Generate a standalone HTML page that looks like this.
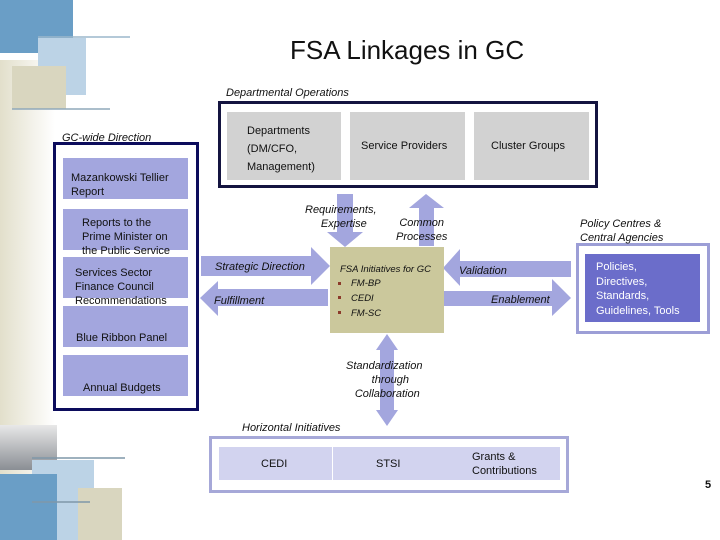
<!DOCTYPE html>
<html><head><meta charset="utf-8"><style>
body{margin:0}
#p{position:relative;width:720px;height:540px;overflow:hidden;background:#fff;font-family:"Liberation Sans",sans-serif;color:#111}
.t{position:absolute;font-size:11px;line-height:14px;white-space:nowrap}
.i{font-style:italic}
</style></head><body><div id="p">
<svg width="720" height="540" style="position:absolute;left:0;top:0">
<defs>
<linearGradient id="lg" x1="0" x2="0" y1="0" y2="1"><stop offset="0" stop-color="#fff"/><stop offset="0.5" stop-color="#e8e5d2"/><stop offset="1" stop-color="#fff"/></linearGradient>
<linearGradient id="lh" x1="0" x2="1"><stop offset="0" stop-color="#e2dfcb"/><stop offset="1" stop-color="#fff"/></linearGradient>
<linearGradient id="gr" x1="0" x2="0" y1="0" y2="1"><stop offset="0" stop-color="#e8e8e8"/><stop offset="1" stop-color="#8a8e94"/></linearGradient>
</defs>
<rect x="0" y="60" width="55" height="420" fill="url(#lh)"/>
<rect x="0" y="0" width="73" height="53" fill="#6a9ec6"/>
<rect x="38" y="38" width="48" height="57" fill="#bcd3e6"/>
<rect x="12" y="66" width="54" height="43" fill="#d9d6bf"/>
<line x1="38" y1="37" x2="130" y2="37" stroke="#9bb7cc" stroke-width="1.5"/>
<line x1="12" y1="109" x2="110" y2="109" stroke="#8fa8ba" stroke-width="1.5"/>
<rect x="0" y="425" width="57" height="45" fill="url(#gr)"/>
<rect x="32" y="460" width="62" height="80" fill="#bcd3e6"/>
<rect x="0" y="474" width="57" height="66" fill="#6a9ec6"/>
<rect x="78" y="488" width="44" height="52" fill="#d9d6bf"/>
<line x1="32" y1="458" x2="125" y2="458" stroke="#7f97a8" stroke-width="1.5"/>
<line x1="32" y1="502" x2="90" y2="502" stroke="#7f97a8" stroke-width="1.5"/>
<!-- Dept ops box -->
<rect x="219.5" y="102.5" width="377" height="84" fill="#fff" stroke="#141440" stroke-width="3"/>
<rect x="227" y="112" width="114" height="68" fill="#d2d2d2"/>
<rect x="350" y="112" width="115" height="68" fill="#d2d2d2"/>
<rect x="474" y="112" width="115" height="68" fill="#d2d2d2"/>
<!-- GC-wide box -->
<rect x="54.5" y="143.5" width="143" height="266" fill="#fff" stroke="#0c0c5c" stroke-width="3"/>
<rect x="63" y="158" width="125" height="41" fill="#a3a6de"/>
<rect x="63" y="209" width="125" height="41" fill="#a3a6de"/>
<rect x="63" y="257" width="125" height="41" fill="#a3a6de"/>
<rect x="63" y="306" width="125" height="41" fill="#a3a6de"/>
<rect x="63" y="355" width="125" height="41" fill="#a3a6de"/>
<!-- arrows -->
<g fill="#a3a6de">
<polygon points="337,194 353,194 353,232 363,232 345,247 327,232 337,232"/>
<polygon points="419,246 434,246 434,208 444,208 426,194 409,208 419,208"/>
<polygon points="201,256 311,256 311,247 330,266 311,285 311,276 201,276"/>
<polygon points="328,289 218,289 218,281 200,298 218,316 218,306 328,306"/>
<polygon points="571,261 460,261 460,249 443,268 460,286 460,277 571,277"/>
<polygon points="444,291 552,291 552,279 571,298 552,316 552,306 444,306"/>
<polygon points="380,350 380,410 376,410 387,426 398,410 394,410 394,350 398,350 387,334 376,350"/>
</g>
<rect x="330" y="247" width="114" height="86" fill="#cbc89c"/>
<g fill="#8b3a2a"><rect x="338" y="282" width="3" height="3"/><rect x="338" y="296" width="3" height="3"/><rect x="338" y="311" width="3" height="3"/></g>
<!-- policy -->
<rect x="577.5" y="244.5" width="131" height="88" fill="#fff" stroke="#9c9ed6" stroke-width="3"/>
<rect x="585" y="254" width="115" height="68" fill="#6b6dca"/>
<!-- horizontal -->
<rect x="210.5" y="437.5" width="357" height="54" fill="#fff" stroke="#a6a8d8" stroke-width="3"/>
<rect x="219" y="447" width="341" height="33" fill="#d2d3ef"/>
<line x1="332.5" y1="447" x2="332.5" y2="480" stroke="#fff" stroke-width="1"/>
</svg>
<div class="t" style="left:290px;top:34px;font-size:26px;line-height:32px">FSA Linkages in GC</div>
<div class="t i" style="left:226px;top:86px">Departmental Operations</div>
<div class="t" style="left:247px;top:122px;line-height:18px">Departments<br>(DM/CFO,<br>Management)</div>
<div class="t" style="left:361px;top:139px">Service Providers</div>
<div class="t" style="left:491px;top:139px">Cluster Groups</div>
<div class="t i" style="left:62px;top:131px">GC-wide Direction</div>
<div class="t" style="left:71px;top:171px">Mazankowski Tellier<br>Report</div>
<div class="t" style="left:82px;top:216px">Reports to the<br>Prime Minister on<br>the Public Service</div>
<div class="t" style="left:75px;top:266px">Services Sector<br>Finance Council<br>Recommendations</div>
<div class="t" style="left:76px;top:331px">Blue Ribbon Panel</div>
<div class="t" style="left:83px;top:381px">Annual Budgets</div>
<div class="t i" style="left:305px;top:203px;text-align:center">Requirements,<br>&nbsp;&nbsp;Expertise</div>
<div class="t i" style="left:396px;top:216px;text-align:center">Common<br>Processes</div>
<div class="t i" style="left:215px;top:260px">Strategic Direction</div>
<div class="t i" style="left:214px;top:294px">Fulfillment</div>
<div class="t i" style="left:340px;top:263px;font-size:9.5px">FSA Initiatives for GC</div>
<div class="t i" style="left:351px;top:276px;font-size:9.5px;line-height:15px">FM-BP<br>CEDI<br>FM-SC</div>
<div class="t i" style="left:459px;top:264px">Validation</div>
<div class="t i" style="left:491px;top:293px">Enablement</div>
<div class="t i" style="left:580px;top:217px">Policy Centres &amp;<br>Central Agencies</div>
<div class="t" style="left:596px;top:260px;color:#fff;line-height:14.5px">Policies,<br>Directives,<br>Standards,<br>Guidelines, Tools</div>
<div class="t i" style="left:346px;top:359px;text-align:center">Standardization<br>&nbsp;&nbsp;&nbsp;&nbsp;through<br>&nbsp;&nbsp;Collaboration</div>
<div class="t i" style="left:242px;top:421px">Horizontal Initiatives</div>
<div class="t" style="left:261px;top:457px">CEDI</div>
<div class="t" style="left:376px;top:457px">STSI</div>
<div class="t" style="left:472px;top:450px">Grants &amp;<br>Contributions</div>
<div class="t" style="left:705px;top:478px;font-weight:bold">5</div>
</div></body></html>
